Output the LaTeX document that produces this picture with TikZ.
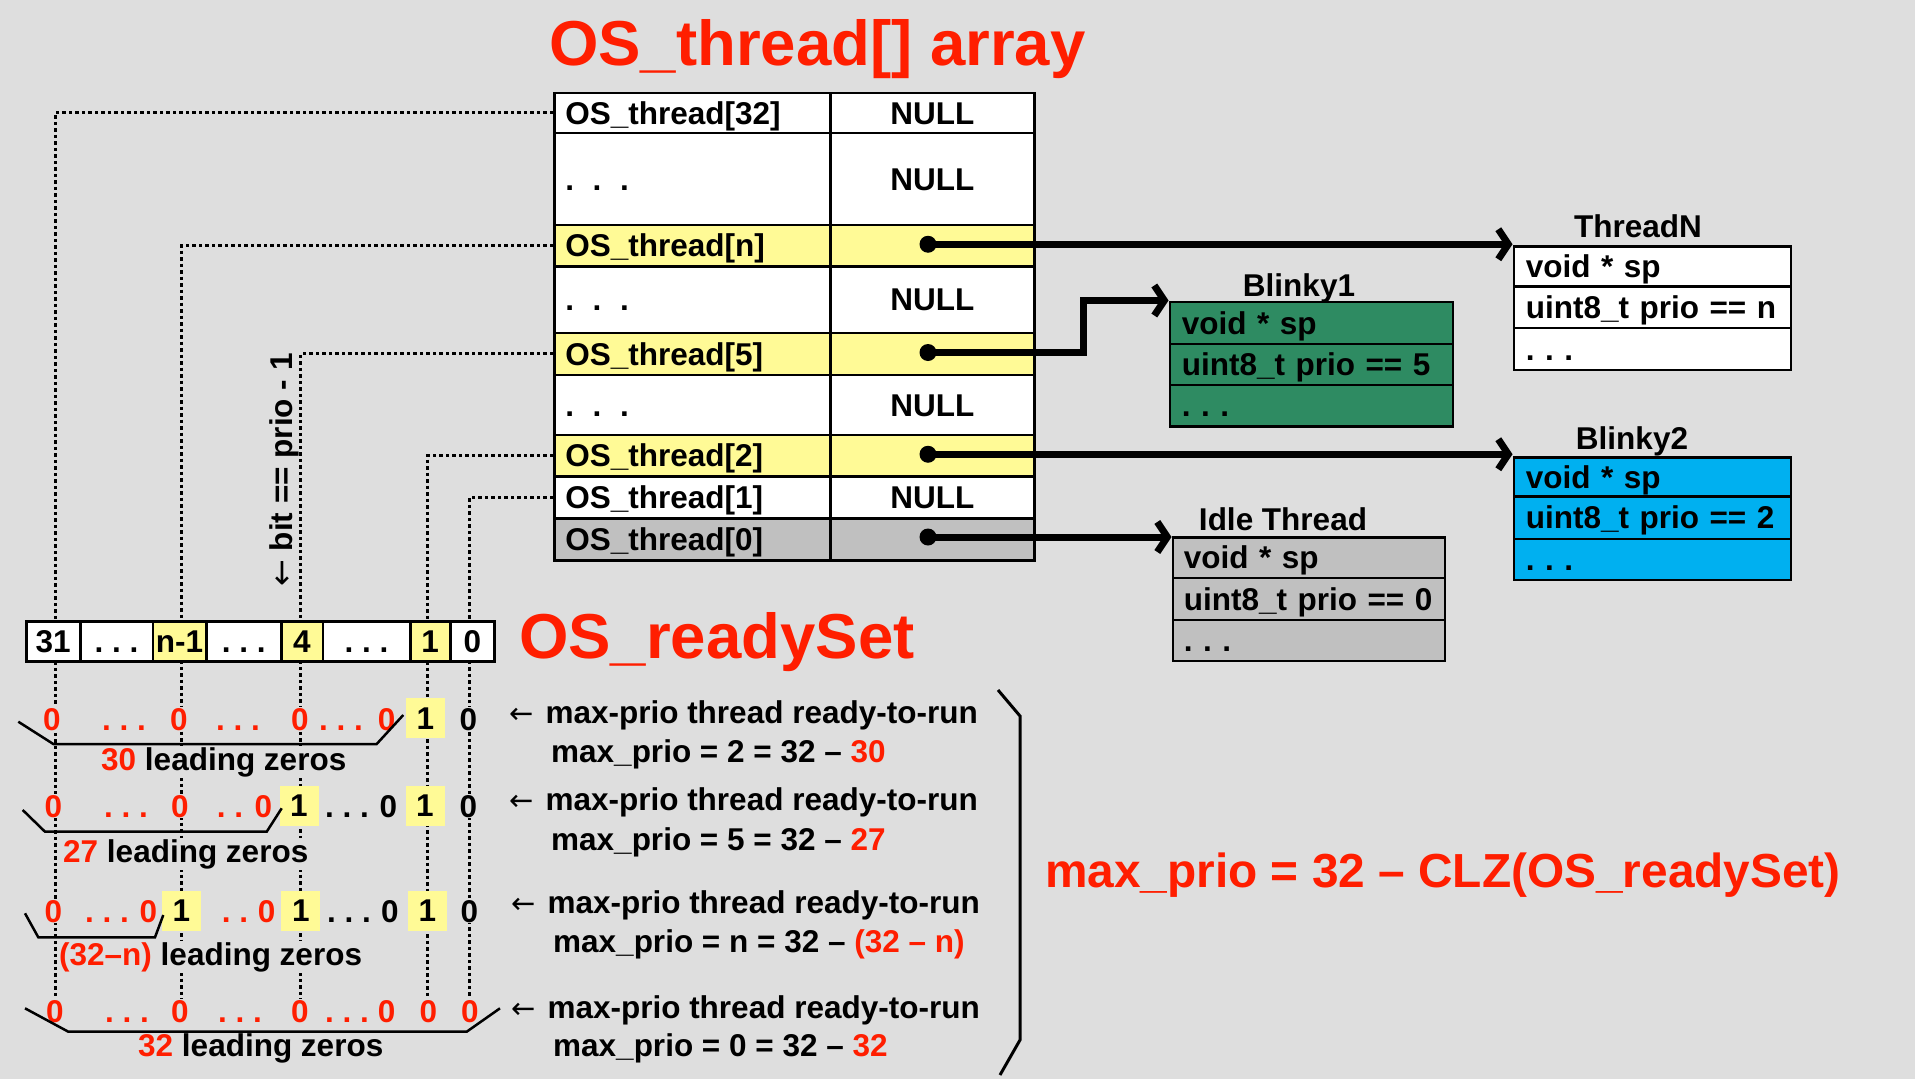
\documentclass[tikz,border=0pt]{standalone}
\usepackage{fontspec}
\setmainfont{Liberation Sans}
\newfontfamily\arrfont{DejaVu Sans}
\usetikzlibrary{arrows.meta}
\definecolor{bg}{RGB}{222,222,222}
\definecolor{rd}{RGB}{255,30,0}
\definecolor{yel}{RGB}{255,250,150}
\definecolor{grn}{RGB}{46,139,98}
\definecolor{cyn}{RGB}{0,176,240}
\definecolor{gry}{RGB}{192,192,192}
\newcommand\fbody{\fontsize{31.5pt}{36pt}\selectfont\bfseries\frenchspacing}
\newcommand\fright{\fontsize{31.5pt}{36pt}\selectfont\bfseries\frenchspacing}
\newcommand\fbig{\fontsize{63.5pt}{70pt}\selectfont\bfseries}
\newcommand\fform{\fontsize{47.8pt}{54pt}\selectfont\bfseries}
\newcommand\rd[1]{\textcolor{rd}{#1}}
\newcommand\tdots{.\hspace{18.7pt}.\hspace{18.7pt}.}
\newcommand\larr{{\arrfont\mdseries\fontsize{29pt}{30pt}\selectfont ←}}
\tikzset{
  cell/.style={draw=black, line width=2.5pt, rectangle, anchor=north west, inner ysep=0pt,
    text height=22.5pt, text depth=0pt, font=\fbody},
  tabL/.style={cell, minimum width=276pt, text width=254pt, inner xsep=11pt, align=left},
  tabR/.style={cell, minimum width=204pt, text width=204pt, inner xsep=0pt, align=center},
  thrA/.style={cell, minimum width=277pt, text width=253pt, inner xsep=12pt, align=left},
  thrB/.style={cell, minimum width=283pt, text width=259pt, inner xsep=12pt, align=left},
  thrC/.style={cell, minimum width=272pt, text width=250pt, inner xsep=11pt, align=left},
  bitc/.style={cell, minimum height=40pt, inner xsep=0pt, align=center},
  ttl/.style={font=\fbody, anchor=base, inner sep=0pt},
  dot/.style={circle, fill=black, minimum size=17pt, inner sep=0pt},
  ptr/.style={line width=7pt, -{Straight Barb[length=10pt,width=30pt]}},
  lead/.style={line width=3pt, dash pattern=on 3.5pt off 3pt},
  brace/.style={line width=2.5pt},
  zred/.style={font=\fbody, anchor=base, fill=bg, inner sep=1pt, text=rd},
  zblk/.style={zred, text=black},
  ybox/.style={fill=yel, minimum width=39pt, minimum height=40pt, inner sep=0pt,
    text height=22.5pt, text depth=0pt, font=\fbody},
  lblw/.style={font=\fbody, anchor=base west, fill=bg, inner sep=1pt},
  rcol/.style={font=\fright, anchor=base west, inner sep=0pt},
}
\begin{document}
\begin{tikzpicture}[x=1pt,y=-1pt]
\fill[bg] (0,0) rectangle (1915,1079);
\useasboundingbox (0,0) rectangle (1915,1079);

% titles
\node[anchor=base west, font=\fbig, text=rd, inner sep=0pt] (title1) at (549,65) {OS\_thread[] array};
\node[anchor=base west, font=\fbig, text=rd, inner sep=0pt] (title2) at (519,658) {OS\_readySet};
\node[anchor=base west, font=\fform, text=rd, inner sep=0pt] (title3) at (1045,887) {max\_prio = 32 – CLZ(OS\_readySet)};

% OS_thread[] table
\node[tabL, minimum height=40pt, fill=white] (L32) at (553,91.5) {OS\_thread[32]};
\node[tabR, minimum height=40pt, fill=white] (R32) at (829,91.5) {NULL};
\node[tabL, minimum height=92pt, fill=white] (Ld1) at (553,131.5) {\tdots};
\node[tabR, minimum height=92pt, fill=white] (Rd1) at (829,131.5) {NULL};
\node[tabL, minimum height=41.5pt, fill=yel] (Ln) at (553,223.5) {OS\_thread[n]};
\node[tabR, minimum height=41.5pt, fill=yel] (Rn) at (829,223.5) {};
\node[tabL, minimum height=66.5pt, fill=white] (Ld2) at (553,265) {\tdots};
\node[tabR, minimum height=66.5pt, fill=white] (Rd2) at (829,265) {NULL};
\node[tabL, minimum height=42pt, fill=yel] (L5) at (553,331.5) {OS\_thread[5]};
\node[tabR, minimum height=42pt, fill=yel] (R5) at (829,331.5) {};
\node[tabL, minimum height=60pt, fill=white] (Ld3) at (553,373.5) {\tdots};
\node[tabR, minimum height=60pt, fill=white] (Rd3) at (829,373.5) {NULL};
\node[tabL, minimum height=41.5pt, fill=yel] (L2) at (553,433.5) {OS\_thread[2]};
\node[tabR, minimum height=41.5pt, fill=yel] (R2) at (829,433.5) {};
\node[tabL, minimum height=42pt, fill=white] (L1) at (553,475) {OS\_thread[1]};
\node[tabR, minimum height=42pt, fill=white] (R1) at (829,475) {NULL};
\node[tabL, minimum height=42pt, fill=gry] (L0) at (553,517) {OS\_thread[0]};
\node[tabR, minimum height=42pt, fill=gry] (R0) at (829,517) {};

% thread objects
\node[thrA, minimum height=40pt, fill=white] (TN1) at (1512.5,245) {void * sp};
\node[thrA, minimum height=41.5pt, fill=white] (TN2) at (1512.5,285) {\mbox{uint8\_t prio == n}};
\node[thrA, minimum height=42pt, fill=white] (TN3) at (1512.5,326.5) {. . .};
\node[ttl] (TNt) at (1638,237) {ThreadN};

\node[thrB, minimum height=42pt, fill=grn] (B11) at (1168.5,300.5) {void * sp};
\node[thrB, minimum height=41pt, fill=grn] (B12) at (1168.5,342.5) {\mbox{uint8\_t prio == 5}};
\node[thrB, minimum height=41.5pt, fill=grn] (B13) at (1168.5,383.5) {. . .};
\node[ttl] (B1t) at (1299,296) {Blinky1};

\node[thrA, minimum height=39pt, fill=cyn] (B21) at (1512.5,456) {void * sp};
\node[thrA, minimum height=42.5pt, fill=cyn] (B22) at (1512.5,495) {\mbox{uint8\_t prio == 2}};
\node[thrA, minimum height=41pt, fill=cyn] (B23) at (1512.5,537.5) {. . .};
\node[ttl] (B2t) at (1632,449) {Blinky2};

\node[thrC, minimum height=40.5pt, fill=gry] (I1) at (1171.5,536) {void * sp};
\node[thrC, minimum height=42pt, fill=gry] (I2) at (1171.5,576.5) {\mbox{uint8\_t prio == 0}};
\node[thrC, minimum height=41pt, fill=gry] (I3) at (1171.5,618.5) {. . .};
\node[ttl] (It) at (1283,530) {Idle Thread};

% pointers
\node[dot] (dn) at (928,244.25) {};
\node[dot] (d5) at (928,352.5) {};
\node[dot] (d2) at (928,454.25) {};
\node[dot] (d0) at (928,537) {};
\coordinate (bend1) at (1083,300.5);
\draw[ptr] (dn.center) -- (TN1.north west |- dn.center);
\draw[ptr] (d5.center) -| (bend1) -- (B11.north west);
\draw[ptr] (d2.center) -- (B21.north west |- d2.center);
\draw[ptr] (d0.center) -- (I1.north west |- d0.center);

% dotted leaders
\coordinate (e31) at (55,1003);
\coordinate (en) at (181,1003);
\coordinate (e4) at (300.5,1003);
\coordinate (e1) at (427,1003);
\coordinate (e0) at (469.5,1003);
\draw[lead] (L32.west) -| (e31);
\draw[lead] (Ln.west) -| (en);
\draw[lead] (L5.west) -| (e4);
\draw[lead] (L2.west) -| (e1);
\draw[lead] (L1.west) -| (e0);

\node[font=\fbody, rotate=90, anchor=base, inner sep=0pt] (bitlbl) at (292.5,470) {{\arrfont\mdseries\fontsize{32pt}{34pt}\selectfont ←}\ bit == prio - 1};

% OS_readySet bits
\node[bitc, minimum width=54pt, fill=white] (b31) at (25,620) {31};
\node[bitc, minimum width=72.5pt, fill=white] (bd1) at (79,620) {. . .};
\node[bitc, minimum width=53.5pt, fill=yel] (bn) at (151.5,620) {n-1};
\node[bitc, minimum width=75pt, fill=white] (bd2) at (205,620) {. . .};
\node[bitc, minimum width=41.5pt, fill=yel] (b4) at (280,620) {4};
\node[bitc, minimum width=87.5pt, fill=white] (bd3) at (321.5,620) {. . .};
\node[bitc, minimum width=40pt, fill=yel] (b1) at (409,620) {1};
\node[bitc, minimum width=44.3pt, fill=white] (b0) at (449,620) {0};

% row A
\node[zred] (a1) at (52,730) {0};
\node[zred] (a2) at (124,730) {. . .};
\node[zred] (a3) at (179,730) {0};
\node[zred] (a4) at (238,730) {. . .};
\node[zred] (a5) at (300,730) {0};
\node[zred] (a6) at (341,730) {. . .};
\node[zred] (a7) at (386.7,730) {0};
\node[ybox] (a8) at (425.5,718) {1};
\node[zblk] (a9) at (468.3,730) {0};
\node[lblw] (la) at (100,770) {\rd{30} leading zeros};
% row B
\node[zred] (c1) at (53.3,817) {0};
\node[zred] (c2) at (126,817) {. . .};
\node[zred] (c3) at (180,817) {0};
\node[zred] (c4) at (230,817) {. .};
\node[zred] (c5) at (263.3,817) {0};
\node[ybox] (c6) at (299,805.5) {1};
\node[zblk] (c7) at (347,817) {. . .};
\node[zblk] (c8) at (388.3,817) {0};
\node[ybox] (c9) at (425,805.5) {1};
\node[zblk] (c10) at (468.3,817) {0};
\node[lblw] (lb) at (62,862) {\rd{27} leading zeros};
% row C
\node[zred] (g1) at (53.3,922) {0};
\node[zred] (g2) at (107,922) {. . .};
\node[zred] (g3) at (148.3,922) {0};
\node[ybox] (g4) at (181.3,910.5) {1};
\node[zred] (g5) at (235,922) {. .};
\node[zred] (g6) at (266.7,922) {0};
\node[ybox] (g7) at (300.8,910.5) {1};
\node[zblk] (g8) at (349,922) {. . .};
\node[zblk] (g9) at (390,922) {0};
\node[ybox] (g10) at (427.5,910.5) {1};
\node[zblk] (g11) at (469.3,922) {0};
\node[lblw] (lc) at (58,965) {\rd{(32–n)} leading zeros};
% row D
\node[zred] (h1) at (55,1022) {0};
\node[zred] (h2) at (127,1022) {. . .};
\node[zred] (h3) at (180,1022) {0};
\node[zred] (h4) at (240,1022) {. . .};
\node[zred] (h5) at (300,1022) {0};
\node[zred] (h6) at (347,1022) {. . .};
\node[zred] (h7) at (386.7,1022) {0};
\node[zred] (h8) at (428.3,1022) {0};
\node[zred] (h9) at (470,1022) {0};
\node[lblw] (ld) at (137,1056) {\rd{32} leading zeros};

% braces
\draw[brace] (18.3,721.7) -- (53.3,744) -- (376.7,744) -- (403.3,715);
\draw[brace] (22.7,810) -- (45,831.7) -- (266.7,831.7) -- (281.7,808.3);
\draw[brace] (25,913.3) -- (38.3,937.3) -- (155,937.3) -- (163.3,915);
\draw[brace] (25,1008.3) -- (68.3,1031.7) -- (466.7,1031.7) -- (500,1008.3);

% right column
\node[rcol] (ra1) at (509,723) {\larr\hspace{12pt}max-prio thread ready-to-run};
\node[rcol] (ra2) at (551,762) {max\_prio = 2 = 32 – \rd{30}};
\node[rcol] (rb1) at (509,810) {\larr\hspace{12pt}max-prio thread ready-to-run};
\node[rcol] (rb2) at (551,850) {max\_prio = 5 = 32 – \rd{27}};
\node[rcol] (rc1) at (511,913) {\larr\hspace{12pt}max-prio thread ready-to-run};
\node[rcol] (rc2) at (553,952) {max\_prio = n = 32 – \rd{(32 – n)}};
\node[rcol] (rd1) at (511,1018) {\larr\hspace{12pt}max-prio thread ready-to-run};
\node[rcol] (rd2) at (553,1056) {max\_prio = 0 = 32 – \rd{32}};

% big bracket
\draw[line width=3pt] (998,690) -- (1020,716) -- (1020,1040) -- (1000,1075);
\end{tikzpicture}
\end{document}
